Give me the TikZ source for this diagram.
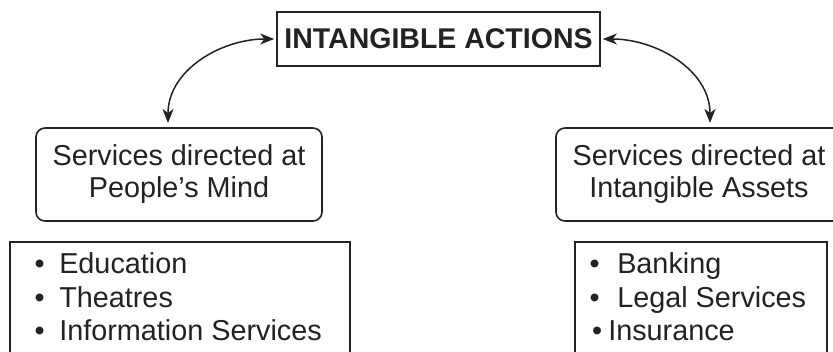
\documentclass[tikz,border=0pt]{standalone}
\usepackage{fontspec}
\setmainfont{Liberation Sans}
\usetikzlibrary{arrows.meta}
\definecolor{ink}{HTML}{222222}
\begin{document}
\begin{tikzpicture}[x=1pt,y=-1pt,
  every node/.style={text=ink, font=\fontsize{28.8}{32}\selectfont},
  titlebox/.style={draw=ink, line width=1.6pt, minimum width=323pt, minimum height=54pt,
    inner sep=0pt, font=\fontsize{28.5}{32}\selectfont\bfseries},
  groupbox/.style={draw=ink, line width=1.6pt, rounded corners=9pt, align=center,
    minimum width=286pt, minimum height=93pt, inner sep=0pt},
  listbox/.style={draw=ink, line width=1.8pt, anchor=north west, inner sep=0pt},
  item/.style={anchor=base west, inner sep=0pt},
  headtip/.tip={Stealth[length=14pt,width=11pt,inset=4pt]},
  link/.style={draw=ink, line width=1.5pt, headtip-headtip}
]
\useasboundingbox (0,0) rectangle (833,351);
\clip (0,0) rectangle (833,351);

% headline
\node[titlebox] (title) at (438.5,39) {INTANGIBLE ACTIONS};

% the two service groups
\node[groupbox] (mind) at (179,174.5) {Services directed at\\People’s Mind};
\node[groupbox] (assets) at (699,174.5) {Services directed at\\Intangible Assets};

% example lists
\node[listbox, minimum width=340pt, minimum height=140pt] (lmind) at (9,241) {};
\node[listbox, minimum width=252pt, minimum height=140pt] (lassets) at (574,241) {};

\node[item] (m1) at (34.5,273) {•\hspace{14.5pt}Education};
\node[item] (m2) at (34.5,307) {•\hspace{14.5pt}Theatres};
\node[item] (m3) at (34.5,340) {•\hspace{14.5pt}Information Services};

\node[item] (a1) at (589.5,273) {•\hspace{17.5pt}Banking};
\node[item] (a2) at (589.5,307) {•\hspace{17.5pt}Legal Services};
\node[item] (a3) at (592,340) {•\hspace{6pt}Insurance};

% connectors
\coordinate (mindtop) at (168,123);
\coordinate (assetstop) at (710,123);
\draw[link] (mindtop) to[out=90,in=180] ([xshift=-2pt]title.west);
\draw[link] ([xshift=2pt]title.east) to[out=0,in=90] (assetstop);
\end{tikzpicture}
\end{document}
